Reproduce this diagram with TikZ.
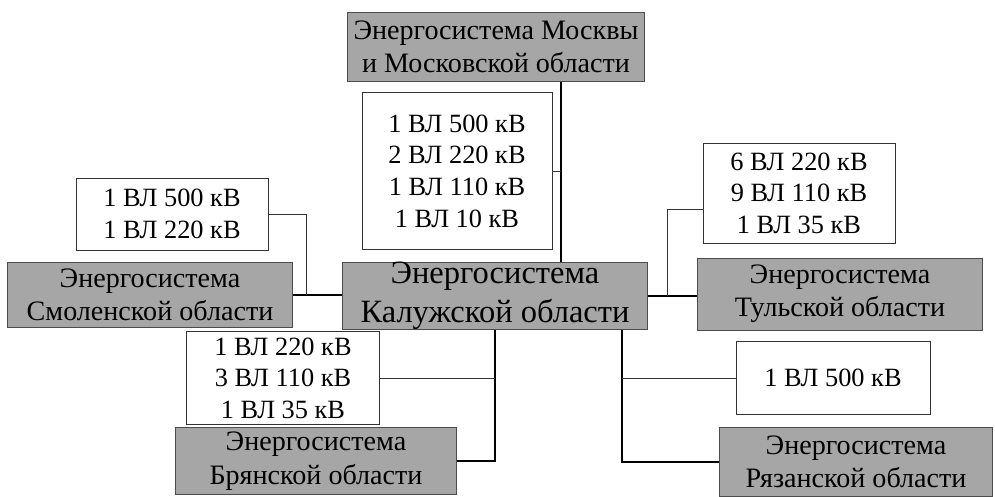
\documentclass[tikz,border=0pt]{standalone}
\usepackage{fontspec}
\setmainfont{Liberation Serif}
\usepackage{tikz}
\usetikzlibrary{calc,positioning}

\begin{document}
\begin{tikzpicture}[
    x=0.02cm,
    y=-0.02cm,
    every node/.style={font=\fontsize{15}{18}\selectfont},
    sysbox/.style={draw=black!70, fill=black!35, align=center, inner sep=0pt,
        font=\fontsize{16}{19}\selectfont},
    infobox/.style={draw=black!80, fill=white, align=center, inner sep=0pt},
    bus/.style={line width=1pt},
    tap/.style={line width=0.5pt, black!80}
]

\useasboundingbox (0,0) rectangle (995,497);

% Power systems
\node[sysbox, minimum width=5.94cm, minimum height=1.38cm] (moscow) at (496,47)
    {Энергосистема Москвы\\и Московской области};
\node[sysbox, minimum width=6.1cm, minimum height=1.34cm,
      font=\fontsize{18.5}{22}\selectfont] (kaluga) at (495,296)
    {Энергосистема\\Калужской области};
\node[sysbox, minimum width=5.7cm, minimum height=1.3cm] (smolensk) at (150,295)
    {Энергосистема\\Смоленской области};
\node[sysbox, minimum width=5.7cm, minimum height=1.44cm] (tula) at (840,294)
    {Энергосистема\\Тульской области};
\node[sysbox, minimum width=5.62cm, minimum height=1.34cm] (bryansk) at (316,461)
    {Энергосистема\\Брянской области};
\node[sysbox, minimum width=5.46cm, minimum height=1.38cm] (ryazan) at (856,462)
    {Энергосистема\\Рязанской области};

% Line lists
\node[infobox, minimum width=3.8cm, minimum height=3.14cm] (moscowinfo) at (457,171)
    {1 ВЛ 500 кВ\\2 ВЛ 220 кВ\\1 ВЛ 110 кВ\\1 ВЛ 10 кВ};
\node[infobox, minimum width=3.84cm, minimum height=1.44cm] (smolinfo) at (172,214)
    {1 ВЛ 500 кВ\\1 ВЛ 220 кВ};
\node[infobox, minimum width=3.84cm, minimum height=2.0cm] (tulainfo) at (799,193)
    {6 ВЛ 220 кВ\\9 ВЛ 110 кВ\\1 ВЛ 35 кВ};
\node[infobox, minimum width=3.86cm, minimum height=1.86cm] (bryinfo) at (283,378)
    {1 ВЛ 220 кВ\\3 ВЛ 110 кВ\\1 ВЛ 35 кВ};
\node[infobox, minimum width=3.88cm, minimum height=1.46cm] (ryazinfo) at (833,378)
    {1 ВЛ 500 кВ};

% Bus positions
\coordinate (mline) at (561,0);
\coordinate (rline) at (622,0);
\coordinate (sline) at (306,0);
\coordinate (tline) at (667,0);

% Ties between systems
\draw[bus] (moscow.south -| mline) -- (kaluga.north -| mline);
\draw[bus] (smolensk.east) -- (smolensk.east -| kaluga.west);
\draw[bus] (kaluga.east) -- (kaluga.east -| tula.west);
\draw[bus] (kaluga.south) |- (bryansk.east);
\draw[bus] (kaluga.south -| rline) |- (ryazan.west);

% Taps to the line lists
\draw[tap] (moscowinfo.east) -- (moscowinfo.east -| mline);
\draw[tap] (smolinfo.east) -| (sline |- smolensk.east);
\draw[tap] ([yshift=-0.32cm]tulainfo.west) -| (tline |- kaluga.east);
\draw[tap] (bryinfo.east) -- (bryinfo.east -| kaluga.south);
\draw[tap] (ryazinfo.west) -- (ryazinfo.west -| rline);

\end{tikzpicture}
\end{document}
